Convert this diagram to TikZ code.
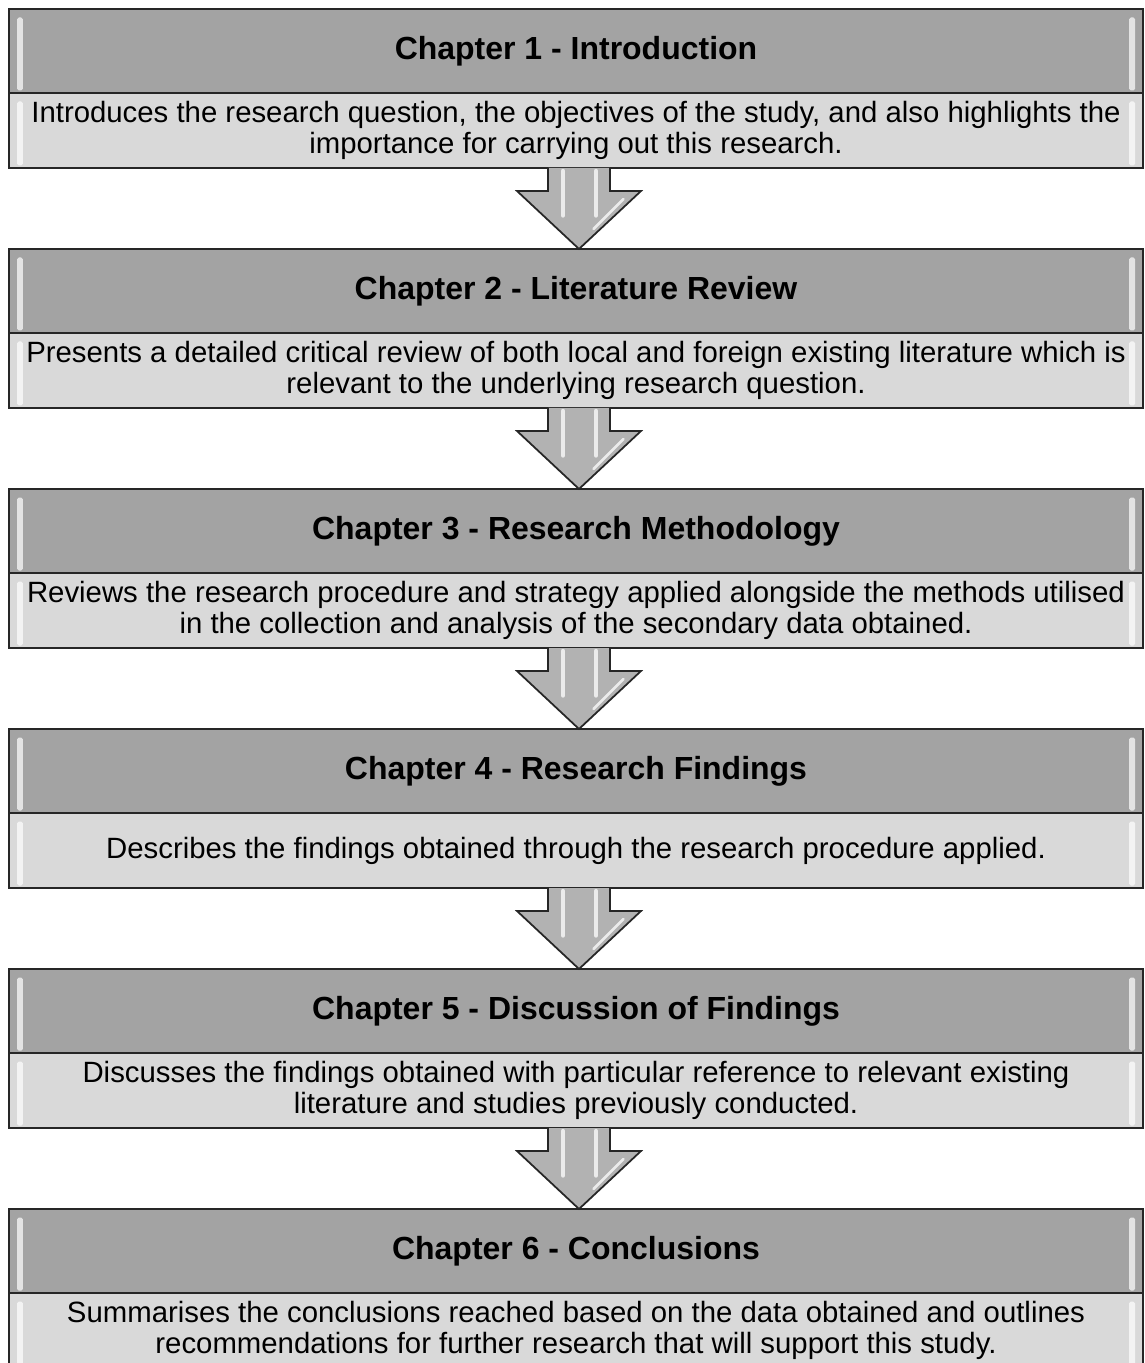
\documentclass[tikz,border=0pt]{standalone}
\usepackage{fontspec}
\setmainfont{Liberation Sans}
\usetikzlibrary{positioning,calc}

\begin{document}
\begin{tikzpicture}[
            bevel/.style={
                    path picture={
                            \fill[white, opacity=0.7, rounded corners=1pt]
                            ([xshift=0.16cm, yshift=-0.17cm]path picture bounding box.north west)
                            rectangle ([xshift=0.28cm, yshift=0.05cm]path picture bounding box.south west);
                            \fill[white, opacity=0.7, rounded corners=1pt]
                            ([xshift=-0.16cm, yshift=-0.17cm]path picture bounding box.north east)
                            rectangle ([xshift=-0.28cm, yshift=0.05cm]path picture bounding box.south east);
                        }
                },
            chapter/.style={
                    draw=black!85,
                    line width=1.1pt,
                    rectangle,
                    fill=black!36,
                    bevel,
                    outer sep=0pt,
                    minimum width=22.68cm,
                    minimum height=1.68cm,
                    align=center,
                    font=\fontsize{18.2}{20}\selectfont\bfseries
                },
            summary/.style={
                    draw=black!85,
                    line width=1.1pt,
                    rectangle,
                    fill=black!15,
                    bevel,
                    outer sep=0pt,
                    minimum width=22.68cm,
                    minimum height=1.5cm,
                    inner sep=1pt,
                    align=center,
                    font=\fontsize{16.7}{17.2}\selectfont
                },
            flowarrow/.style={
                    draw=black!85,
                    line width=1pt,
                    fill=black!30,
                    line join=miter
                },
            shine/.style={
                    draw=white,
                    opacity=0.75,
                    line width=2.5pt,
                    line cap=round
                }
            ]
            \useasboundingbox (0,0) rectangle (22.9,-27.26);

            % Capitulo 1
            \node[chapter, anchor=north west] (chOne) at (0.18,-0.18)
            {Chapter 1 - Introduction};
            \node[summary, below=0pt of chOne] (sumOne)
            {Introduces the research question, the objectives of the study, and also highlights the\\
                importance for carrying out this research.};

            % Capitulo 2
            \node[chapter, below=1.62cm of sumOne] (chTwo)
            {Chapter 2 - Literature Review};
            \node[summary, below=0pt of chTwo] (sumTwo)
            {Presents a detailed critical review of both local and foreign existing literature which is\\
                relevant to the underlying research question.};

            % Capitulo 3
            \node[chapter, below=1.62cm of sumTwo] (chThree)
            {Chapter 3 - Research Methodology};
            \node[summary, below=0pt of chThree] (sumThree)
            {Reviews the research procedure and strategy applied alongside the methods utilised\\
                in the collection and analysis of the secondary data obtained.};

            % Capitulo 4
            \node[chapter, below=1.62cm of sumThree] (chFour)
            {Chapter 4 - Research Findings};
            \node[summary, below=0pt of chFour] (sumFour)
            {Describes the findings obtained through the research procedure applied.};

            % Capitulo 5
            \node[chapter, below=1.62cm of sumFour] (chFive)
            {Chapter 5 - Discussion of Findings};
            \node[summary, below=0pt of chFive] (sumFive)
            {Discusses the findings obtained with particular reference to relevant existing\\
                literature and studies previously conducted.};

            % Capitulo 6
            \node[chapter, below=1.62cm of sumFive] (chSix)
            {Chapter 6 - Conclusions};
            \node[summary, below=0pt of chSix] (sumSix)
            {Summarises the conclusions reached based on the data obtained and outlines\\
                recommendations for further research that will support this study.};

            % Flechas entre capitulos
            \foreach \from/\to in {sumOne/chTwo, sumTwo/chThree, sumThree/chFour,
                    sumFour/chFive, sumFive/chSix} {
                    \draw[flowarrow]
                    ($(\from.south)+(-0.56,0)$) -- ($(\from.south)+(-0.56,-0.46)$)
                    -- ($(\from.south)+(-1.18,-0.46)$) -- ($(\to.north)+(0.06,0)$)
                    -- ($(\from.south)+(1.30,-0.46)$) -- ($(\from.south)+(0.68,-0.46)$)
                    -- ($(\from.south)+(0.68,0)$);
                    \draw[shine] ($(\from.south)+(-0.26,-0.06)$) -- ($(\from.south)+(-0.26,-0.95)$);
                    \draw[shine] ($(\from.south)+(0.40,-0.06)$) -- ($(\from.south)+(0.40,-0.95)$);
                    \draw[shine, line width=1.5pt] ($(\from.south)+(0.95,-0.62)$) -- ($(\from.south)+(0.35,-1.22)$);
                }

        \end{tikzpicture}
\end{document}
